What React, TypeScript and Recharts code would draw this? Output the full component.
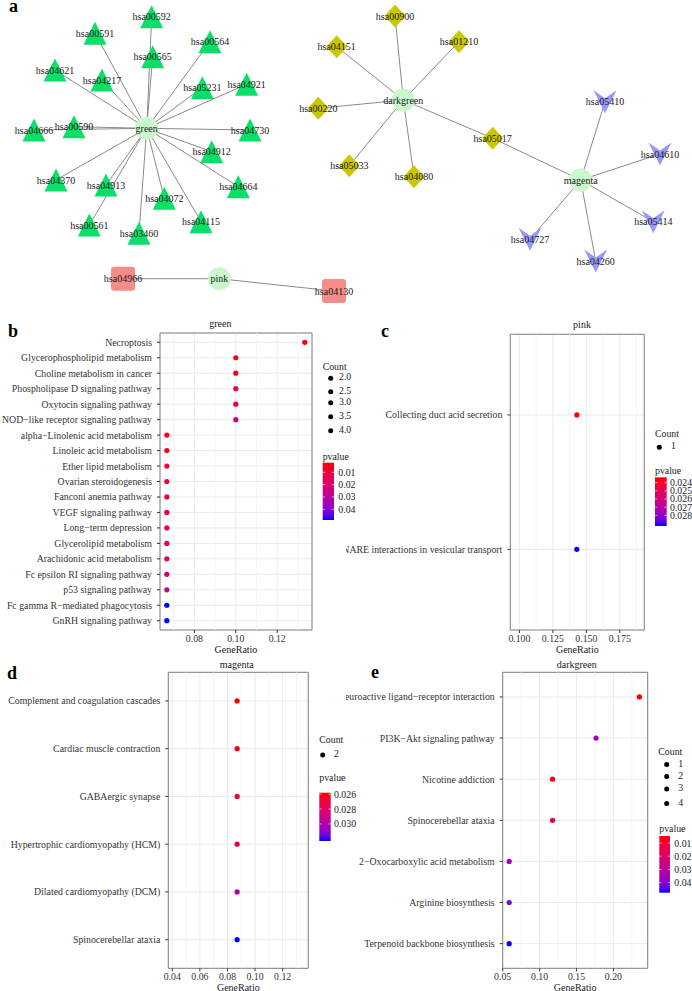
import React from 'react';
import { ScatterChart, Scatter, XAxis, YAxis, CartesianGrid, ReferenceLine, ReferenceArea } from 'recharts';

const FONT = "'Liberation Serif', 'Times New Roman', serif";

// ---------------- Network (panel a): layout coordinates ----------------
const hubs = [
  { id: 'green', x: 146.7, y: 128.3 },
  { id: 'pink', x: 219.3, y: 278.7 },
  { id: 'darkgreen', x: 403.3, y: 100 },
  { id: 'magenta', x: 580.7, y: 180 },
];
const greenNodes = [
  { id: 'hsa00592', x: 151.7, y: 16.7 },
  { id: 'hsa00591', x: 95, y: 33.3 },
  { id: 'hsa00565', x: 152.7, y: 56.7 },
  { id: 'hsa00564', x: 210, y: 41.7 },
  { id: 'hsa04621', x: 55, y: 70 },
  { id: 'hsa04217', x: 102, y: 80 },
  { id: 'hsa05231', x: 202.3, y: 87.7 },
  { id: 'hsa04921', x: 246.7, y: 84.3 },
  { id: 'hsa04666', x: 34, y: 130 },
  { id: 'hsa00590', x: 74, y: 126.7 },
  { id: 'hsa04730', x: 250, y: 130 },
  { id: 'hsa04912', x: 211.7, y: 151.7 },
  { id: 'hsa04370', x: 56, y: 180 },
  { id: 'hsa04913', x: 106, y: 185 },
  { id: 'hsa04664', x: 238.3, y: 186.7 },
  { id: 'hsa04072', x: 164.3, y: 198.3 },
  { id: 'hsa00561', x: 89.3, y: 225 },
  { id: 'hsa03460', x: 139, y: 233.3 },
  { id: 'hsa04115', x: 201, y: 221.7 },
];
const pinkNodes = [
  { id: 'hsa04966', x: 123, y: 278.7 },
  { id: 'hsa04130', x: 334, y: 291 },
];
const darkgreenNodes = [
  { id: 'hsa00900', x: 395, y: 16 },
  { id: 'hsa01210', x: 459, y: 41.7 },
  { id: 'hsa04151', x: 336.7, y: 46.7 },
  { id: 'hsa00220', x: 318.3, y: 108.3 },
  { id: 'hsa05033', x: 349.3, y: 165.7 },
  { id: 'hsa04080', x: 414, y: 176.7 },
  { id: 'hsa05017', x: 492.7, y: 138.3 },
];
const magentaNodes = [
  { id: 'hsa05410', x: 605, y: 101.7 },
  { id: 'hsa04610', x: 660, y: 154 },
  { id: 'hsa05414', x: 653.3, y: 221.7 },
  { id: 'hsa04260', x: 595.7, y: 261 },
  { id: 'hsa04727', x: 530, y: 239.3 },
];
const extraEdges = [['magenta', 'hsa05017']];

// ---------------- Enrichment panels ----------------
const bTerms = [
  'Necroptosis', 'Glycerophospholipid metabolism', 'Choline metabolism in cancer',
  'Phospholipase D signaling pathway', 'Oxytocin signaling pathway', 'NOD\u2212like receptor signaling pathway',
  'alpha\u2212Linolenic acid metabolism', 'Linoleic acid metabolism', 'Ether lipid metabolism',
  'Ovarian steroidogenesis', 'Fanconi anemia pathway', 'VEGF signaling pathway', 'Long\u2212term depression',
  'Glycerolipid metabolism', 'Arachidonic acid metabolism', 'Fc epsilon RI signaling pathway',
  'p53 signaling pathway', 'Fc gamma R\u2212mediated phagocytosis', 'GnRH signaling pathway',
];
const bRatio = [0.1333, 0.1, 0.1, 0.1, 0.1, 0.1, 0.0667, 0.0667, 0.0667, 0.0667, 0.0667, 0.0667, 0.0667, 0.0667, 0.0667, 0.0667, 0.0667, 0.0667, 0.0667];
const bCount = [4, 3, 3, 3, 3, 3, 2, 2, 2, 2, 2, 2, 2, 2, 2, 2, 2, 2, 2];
const bP = [0.0022, 0.0045, 0.0059, 0.0115, 0.0138, 0.0278, 0.0036, 0.005, 0.0092, 0.0101, 0.0115, 0.0138, 0.0152, 0.0162, 0.0175, 0.0208, 0.0278, 0.0487, 0.0487];
const bXTicks = [0.08, 0.1, 0.12];
const bXMinor = [0.07, 0.09, 0.11, 0.13];
const bCountLevels = ['2.0', '2.5', '3.0', '3.5', '4.0'];
const bPTicks = [0.01, 0.02, 0.03, 0.04];

const cTerms = ['Collecting duct acid secretion', 'SNARE interactions in vesicular transport'];
const cRatio = [0.1429, 0.1429];
const cCount = [1, 1];
const cP = [0.02335, 0.0293];
const cXTicks = [0.1, 0.125, 0.15, 0.175];
const cXMinor = [0.1125, 0.1375, 0.1625, 0.1875];
const cCountLevels = ['1'];
const cPTicks = [0.024, 0.025, 0.026, 0.027, 0.028];

const dTerms = ['Complement and coagulation cascades', 'Cardiac muscle contraction', 'GABAergic synapse',
  'Hypertrophic cardiomyopathy (HCM)', 'Dilated cardiomyopathy (DCM)', 'Spinocerebellar ataxia'];
const dRatio = [0.087, 0.087, 0.087, 0.087, 0.087, 0.087];
const dCount = [2, 2, 2, 2, 2, 2];
const dP = [0.0258, 0.026, 0.0268, 0.027, 0.030, 0.0323];
const dXTicks = [0.04, 0.06, 0.08, 0.1, 0.12];
const dXMinor = [0.05, 0.07, 0.09, 0.11, 0.13];
const dCountLevels = ['2'];
const dPTicks = [0.026, 0.028, 0.03];

const eTerms = ['Neuroactive ligand\u2212receptor interaction', 'PI3K\u2212Akt signaling pathway', 'Nicotine addiction',
  'Spinocerebellar ataxia', '2\u2212Oxocarboxylic acid metabolism', 'Arginine biosynthesis', 'Terpenoid backbone biosynthesis'];
const eRatio = [0.2353, 0.1765, 0.1176, 0.1176, 0.0588, 0.0588, 0.0588];
const eCount = [4, 3, 2, 2, 1, 1, 1];
const eP = [0.0047, 0.0326, 0.006, 0.0154, 0.0347, 0.0412, 0.0476];
const eXTicks = [0.05, 0.1, 0.15, 0.2];
const eXMinor = [0.075, 0.125, 0.175, 0.225];
const eCountLevels = ['1', '2', '3', '4'];
const ePTicks = [0.01, 0.02, 0.03, 0.04];

// ---------------- colour (Lab interpolation red -> blue) ----------------
const toLinear = (c: number) => { const v = c / 255; return v <= 0.04045 ? v / 12.92 : Math.pow((v + 0.055) / 1.055, 2.4); };
const toSrgb = (v: number) => { const c = v <= 0.0031308 ? 12.92 * v : 1.055 * Math.pow(Math.max(v, 0), 1 / 2.4) - 0.055; return Math.round(Math.max(0, Math.min(1, c)) * 255); };
const Xn = 0.95047, Yn = 1, Zn = 1.08883;
function rgb2lab(rgb: number[]) {
  const R = toLinear(rgb[0]), G = toLinear(rgb[1]), B = toLinear(rgb[2]);
  const X = 0.4124564 * R + 0.3575761 * G + 0.1804375 * B;
  const Y = 0.2126729 * R + 0.7151522 * G + 0.072175 * B;
  const Z = 0.0193339 * R + 0.119192 * G + 0.9503041 * B;
  const f = (t: number) => (t > 0.008856 ? Math.cbrt(t) : 7.787 * t + 16 / 116);
  const fx = f(X / Xn), fy = f(Y / Yn), fz = f(Z / Zn);
  return [116 * fy - 16, 500 * (fx - fy), 200 * (fy - fz)];
}
function lab2rgb(lab: number[]) {
  const [L, a, b] = lab;
  const fy = (L + 16) / 116, fx = fy + a / 500, fz = fy - b / 200;
  const finv = (t: number) => (t * t * t > 0.008856 ? t * t * t : (t - 16 / 116) / 7.787);
  const X = Xn * finv(fx), Y = Yn * finv(fy), Z = Zn * finv(fz);
  const R = 3.2404542 * X - 1.5371385 * Y - 0.4985314 * Z;
  const G = -0.969266 * X + 1.8760108 * Y + 0.041556 * Z;
  const B = 0.0556434 * X - 0.2040259 * Y + 1.0572252 * Z;
  return `rgb(${toSrgb(R)},${toSrgb(G)},${toSrgb(B)})`;
}
const LAB_LOW = rgb2lab([255, 0, 0]);
const LAB_HIGH = rgb2lab([0, 0, 255]);
const gradColor = (t: number) => lab2rgb(LAB_LOW.map((v, i) => v + (LAB_HIGH[i] - v) * Math.max(0, Math.min(1, t))));

// ---------------- Network chart ----------------
const makeShape = (kind: string) => (props: any) => {
  const { cx, cy, payload } = props;
  if (cx == null || cy == null) return <g />;
  let el: any = null;
  const h = 11.5;
  if (kind === 'hub') el = <circle cx={cx} cy={cy} r={h} fill="#CCF7CC" />;
  if (kind === 'tri') el = <polygon points={`${cx},${cy - h} ${cx + h},${cy + h} ${cx - h},${cy + h}`} fill="#0AE068" />;
  if (kind === 'dia') el = <polygon points={`${cx},${cy - h} ${cx + 10.5},${cy} ${cx},${cy + h} ${cx - 10.5},${cy}`} fill="#CCC800" />;
  if (kind === 'sq') el = <rect x={cx - 12} y={cy - 12} width={24} height={24} rx={3} fill="#F48C8A" />;
  if (kind === 'vee') el = <polygon points={`${cx - h},${cy - h} ${cx},${cy - 3.5} ${cx + h},${cy - h} ${cx},${cy + h}`} fill="#9898FA" />;
  return (
    <g>
      {el}
      <text x={cx} y={cy} textAnchor="middle" dominantBaseline="central"
        style={{ fontFamily: FONT, fontSize: 10, fill: '#1a1a1a' }}>{payload.id}</text>
    </g>
  );
};
const emptyShape = () => <g />;

function Network() {
  const all = [...hubs, ...greenNodes, ...pinkNodes, ...darkgreenNodes, ...magentaNodes];
  const byId: Record<string, any> = {};
  all.forEach((n) => (byId[n.id] = n));
  const edges: string[][] = [
    ...greenNodes.map((n) => ['green', n.id]),
    ...pinkNodes.map((n) => ['pink', n.id]),
    ...darkgreenNodes.map((n) => ['darkgreen', n.id]),
    ...magentaNodes.map((n) => ['magenta', n.id]),
    ...extraEdges,
  ];
  return (
    <div style={{ position: 'absolute', left: 0, top: 0 }}>
      <ScatterChart width={692} height={306} margin={{ top: 0, right: 0, bottom: 0, left: 0 }}>
        <XAxis type="number" dataKey="x" domain={[0, 692]} hide allowDataOverflow />
        <YAxis type="number" dataKey="y" domain={[0, 306]} reversed hide allowDataOverflow />
        {edges.map((e, i) => (
          <Scatter key={'e' + i} data={[byId[e[0]], byId[e[1]]]} line={{ stroke: '#8a8a8a', strokeWidth: 1 }} shape={emptyShape} isAnimationActive={false} />
        ))}
        <Scatter data={greenNodes} shape={makeShape('tri')} isAnimationActive={false} />
        <Scatter data={darkgreenNodes} shape={makeShape('dia')} isAnimationActive={false} />
        <Scatter data={pinkNodes} shape={makeShape('sq')} isAnimationActive={false} />
        <Scatter data={magentaNodes} shape={makeShape('vee')} isAnimationActive={false} />
        <Scatter data={hubs} shape={makeShape('hub')} isAnimationActive={false} />
      </ScatterChart>
    </div>
  );
}

// ---------------- Dot plot panel ----------------
const AXIS_STYLE = { fontFamily: FONT, fontSize: 9.8, fill: '#333' };

function DotPanel(props: any) {
  const { left, top, width, height, terms, ratios, pvals, counts, xDomain, xTicks, xMinor, fmt,
    yAxisWidth, marginTop, marginRight, xAxisHeight, labelOffset } = props;
  const n = terms.length;
  const data = terms.map((t: string, i: number) => ({ x: ratios[i], y: i + 1, p: pvals[i], count: counts[i], term: t }));
  const pmin = Math.min(...pvals), pmax = Math.max(...pvals);
  const yTicks = terms.map((_: string, i: number) => i + 1);
  const dot = (sp: any) => {
    const { cx, cy, payload } = sp;
    if (cx == null || cy == null) return <g />;
    return <circle cx={cx} cy={cy} r={2.6} fill={gradColor((payload.p - pmin) / (pmax - pmin))} />;
  };
  const yTick = (tp: any) => (
    <text x={tp.x} y={tp.y} textAnchor="end" dominantBaseline="central" style={AXIS_STYLE}>
      {terms[tp.payload.value - 1] || ''}
    </text>
  );
  const xTick = (tp: any) => (
    <text x={tp.x} y={tp.y} textAnchor="middle" dominantBaseline="hanging" style={AXIS_STYLE}>
      {Number(tp.payload.value).toFixed(fmt)}
    </text>
  );
  return (
    <div style={{ position: 'absolute', left, top }}>
      <ScatterChart width={width} height={height} margin={{ top: marginTop, right: marginRight, bottom: 0, left: 0 }}>
        {xMinor.map((m: number) => (
          <ReferenceLine key={'m' + m} x={m} stroke="#F2F2F2" strokeWidth={0.8} />
        ))}
        <CartesianGrid stroke="#EAEAEA" strokeWidth={1} />
        <XAxis type="number" dataKey="x" domain={xDomain} allowDataOverflow ticks={xTicks} interval={0}
          height={xAxisHeight} tickSize={3} tickMargin={1.5}
          axisLine={false} tickLine={{ stroke: '#333' }} tick={xTick}
          label={{ value: 'GeneRatio', position: 'insideBottom', offset: labelOffset, style: { fontFamily: FONT, fontSize: 10, fill: '#1a1a1a' } }} />
        <YAxis type="number" dataKey="y" domain={[0.4, n + 0.6]} allowDataOverflow reversed ticks={yTicks} interval={0}
          width={yAxisWidth} tickSize={3} tickMargin={5}
          axisLine={false} tickLine={{ stroke: '#333' }} tick={yTick} />
        <ReferenceArea x1={xDomain[0]} x2={xDomain[1]} y1={0.4} y2={n + 0.6} fill="none" fillOpacity={0} stroke="#808080" strokeWidth={1} ifOverflow="visible" />
        <Scatter data={data} shape={dot} isAnimationActive={false} />
      </ScatterChart>
    </div>
  );
}

// ---------------- Legends (overlay) ----------------
const LEG_STYLE = { fontFamily: FONT, fontSize: 9.8, fill: '#1a1a1a' };

function CountLegend({ x, titleY, dotX, labelX, ys, levels }: any) {
  return (
    <g>
      <text x={x} y={titleY} dominantBaseline="central" style={LEG_STYLE}>Count</text>
      {levels.map((l: string, i: number) => (
        <g key={l}>
          <circle cx={dotX} cy={ys[i]} r={2.5} fill="#000" />
          <text x={labelX} y={ys[i] - 1.5} dominantBaseline="central" style={LEG_STYLE}>{l}</text>
        </g>
      ))}
    </g>
  );
}

function PLegend({ id, x, titleY, barY, barW, barH, labelX, pvals, ticks, fmt }: any) {
  const pmin = Math.min(...pvals), pmax = Math.max(...pvals);
  const stops = Array.from({ length: 11 }, (_, i) => i / 10);
  return (
    <g>
      <defs>
        <linearGradient id={id} x1="0" y1="0" x2="0" y2="1">
          {stops.map((s) => <stop key={s} offset={s} stopColor={gradColor(s)} />)}
        </linearGradient>
      </defs>
      <text x={x} y={titleY} dominantBaseline="central" style={LEG_STYLE}>pvalue</text>
      <rect x={x} y={barY} width={barW} height={barH} fill={`url(#${id})`} />
      {ticks.map((t: number) => {
        const yy = barY + ((t - pmin) / (pmax - pmin)) * barH;
        return (
          <g key={t}>
            <line x1={x} x2={x + barW * 0.2} y1={yy} y2={yy} stroke="#fff" strokeWidth={0.6} />
            <line x1={x + barW * 0.8} x2={x + barW} y1={yy} y2={yy} stroke="#fff" strokeWidth={0.6} />
            <text x={labelX} y={yy} dominantBaseline="central" style={LEG_STYLE}>{t.toFixed(fmt)}</text>
          </g>
        );
      })}
    </g>
  );
}

function Overlay() {
  const letter = { fontFamily: FONT, fontSize: 18, fontWeight: 700, fill: '#000' };
  const title = { fontFamily: FONT, fontSize: 10, fill: '#1a1a1a' };
  return (
    <svg width={692} height={991} style={{ position: 'absolute', left: 0, top: 0, pointerEvents: 'none', zIndex: 2 }}>
      <text x={9} y={12} style={letter}>a</text>
      <text x={8} y={337} style={letter}>b</text>
      <text x={381} y={337} style={letter}>c</text>
      <text x={7} y={679} style={letter}>d</text>
      <text x={371} y={678} style={letter}>e</text>

      <text x={220.3} y={323.5} textAnchor="middle" dominantBaseline="central" style={title}>green</text>
      <text x={582} y={324} textAnchor="middle" dominantBaseline="central" style={title}>pink</text>
      <text x={236.7} y={664} textAnchor="middle" dominantBaseline="central" style={title}>magenta</text>
      <text x={576.7} y={664} textAnchor="middle" dominantBaseline="central" style={title}>darkgreen</text>

      <CountLegend x={322.7} titleY={366} dotX={330.7} labelX={339} ys={[378.3, 391.7, 402.7, 416.7, 430.7]} levels={bCountLevels} />
      <PLegend id="gb" x={322.7} titleY={456.7} barY={462.7} barW={11.3} barH={57.3} labelX={338.3} pvals={bP} ticks={bPTicks} fmt={2} />

      <CountLegend x={655} titleY={433.3} dotX={659.3} labelX={671} ys={[447.3]} levels={cCountLevels} />
      <PLegend id="gc" x={655} titleY={470.7} barY={477.3} barW={11.7} barH={48.7} labelX={670} pvals={cP} ticks={cPTicks} fmt={3} />

      <CountLegend x={319.3} titleY={739} dotX={322.7} labelX={334} ys={[755]} levels={dCountLevels} />
      <PLegend id="gd" x={319.3} titleY={777.7} barY={792.7} barW={11.4} barH={48.3} labelX={334} pvals={dP} ticks={dPTicks} fmt={3} />

      <CountLegend x={658.3} titleY={751.7} dotX={666.7} labelX={678.3} ys={[764.5, 776.5, 789, 803.5]} levels={eCountLevels} />
      <PLegend id="ge" x={659.3} titleY={828.3} barY={836} barW={10.7} barH={56.7} labelX={674.3} pvals={eP} ticks={ePTicks} fmt={2} />
    </svg>
  );
}

export default function App() {
  return (
    <div style={{ position: 'absolute', left: 0, top: 0, width: 692, height: 991, background: '#fff', overflow: 'hidden' }}>
      <Network />
      <DotPanel left={0} top={310} width={346} height={350} terms={bTerms} ratios={bRatio} pvals={bP} counts={bCount}
        xDomain={[0.0634, 0.1368]} xTicks={bXTicks} xMinor={bXMinor} fmt={2}
        yAxisWidth={160} marginTop={23} marginRight={34} xAxisHeight={30} labelOffset={7} />
      <DotPanel left={346} top={310} width={346} height={350} terms={cTerms} ratios={cRatio} pvals={cP} counts={cCount}
        xDomain={[0.0932, 0.1933]} xTicks={cXTicks} xMinor={cXMinor} fmt={3}
        yAxisWidth={164.3} marginTop={24.3} marginRight={47.7} xAxisHeight={30} labelOffset={7} />
      <DotPanel left={0} top={650} width={346} height={341} terms={dTerms} ratios={dRatio} pvals={dP} counts={dCount}
        xDomain={[0.0371, 0.1386]} xTicks={dXTicks} xMinor={dXMinor} fmt={2}
        yAxisWidth={168.3} marginTop={22.3} marginRight={37.7} xAxisHeight={22.7} labelOffset={0.5} />
      <DotPanel left={346} top={650} width={346} height={341} terms={eTerms} ratios={eRatio} pvals={eP} counts={eCount}
        xDomain={[0.05, 0.2465]} xTicks={eXTicks} xMinor={eXMinor} fmt={2}
        yAxisWidth={156.7} marginTop={22.3} marginRight={44.3} xAxisHeight={22.7} labelOffset={0.5} />
      <Overlay />
    </div>
  );
}
